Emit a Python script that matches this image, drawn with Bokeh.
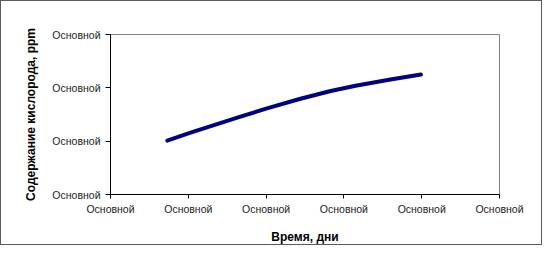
from bokeh.plotting import figure
from bokeh.models import Range1d, FixedTicker
from bokeh.embed import file_html
from bokeh.resources import INLINE

# Data (x in tick units, y in tick units)
days = [0.73, 1.01, 1.35, 1.65, 2.00, 2.43, 2.83, 3.15, 3.58, 3.99]
oxygen = [1.01, 1.15, 1.31, 1.45, 1.61, 1.79, 1.94, 2.04, 2.15, 2.25]

x_ticks = [0, 1, 2, 3, 4, 5]
y_ticks = [0, 1, 2, 3]
tick_text = "Основной"
x_title = "Время, дни"
y_title = "Содержание кислорода, ppm"

p = figure(width=542, height=245, output_backend="svg", toolbar_location=None,
           x_range=Range1d(0, 5), y_range=Range1d(0, 3),
           min_border_left=109, min_border_right=44, min_border_top=33, min_border_bottom=52,
           background_fill_color="white", border_fill_color="white")
p.styles = {"border": "1px solid #595959"}

p.line(days, oxygen, line_color="#000080", line_width=4, line_cap="round", line_join="round")

p.grid.visible = False
p.outline_line_color = "#808080"
p.outline_line_width = 1

for ax, ticks in ((p.xaxis[0], x_ticks), (p.yaxis[0], y_ticks)):
    ax.ticker = FixedTicker(ticks=ticks)
    ax.major_label_overrides = {t: tick_text for t in ticks}
    ax.minor_tick_line_color = None
    ax.axis_line_color = "#000000"
    ax.major_tick_line_color = "#000000"
    ax.major_tick_in = 0
    ax.major_label_text_font = "Liberation Sans"
    ax.major_label_text_font_size = "10.5px"
    ax.major_label_text_color = "#222222"
    ax.axis_label_text_font = "Liberation Sans"
    ax.axis_label_text_font_style = "bold"
    ax.axis_label_text_font_size = "12px"
    ax.axis_label_text_color = "#000000"

p.xaxis.axis_label = x_title
p.yaxis.axis_label = y_title
p.xaxis.major_tick_out = 4
p.yaxis.major_tick_out = 5
p.xaxis.major_label_standoff = 4
p.yaxis.major_label_standoff = 5
p.xaxis.axis_label_standoff = 12
p.yaxis.axis_label_standoff = 11
p.yaxis.major_label_orientation = "horizontal"

open("out.html", "w").write(file_html(p, INLINE))
